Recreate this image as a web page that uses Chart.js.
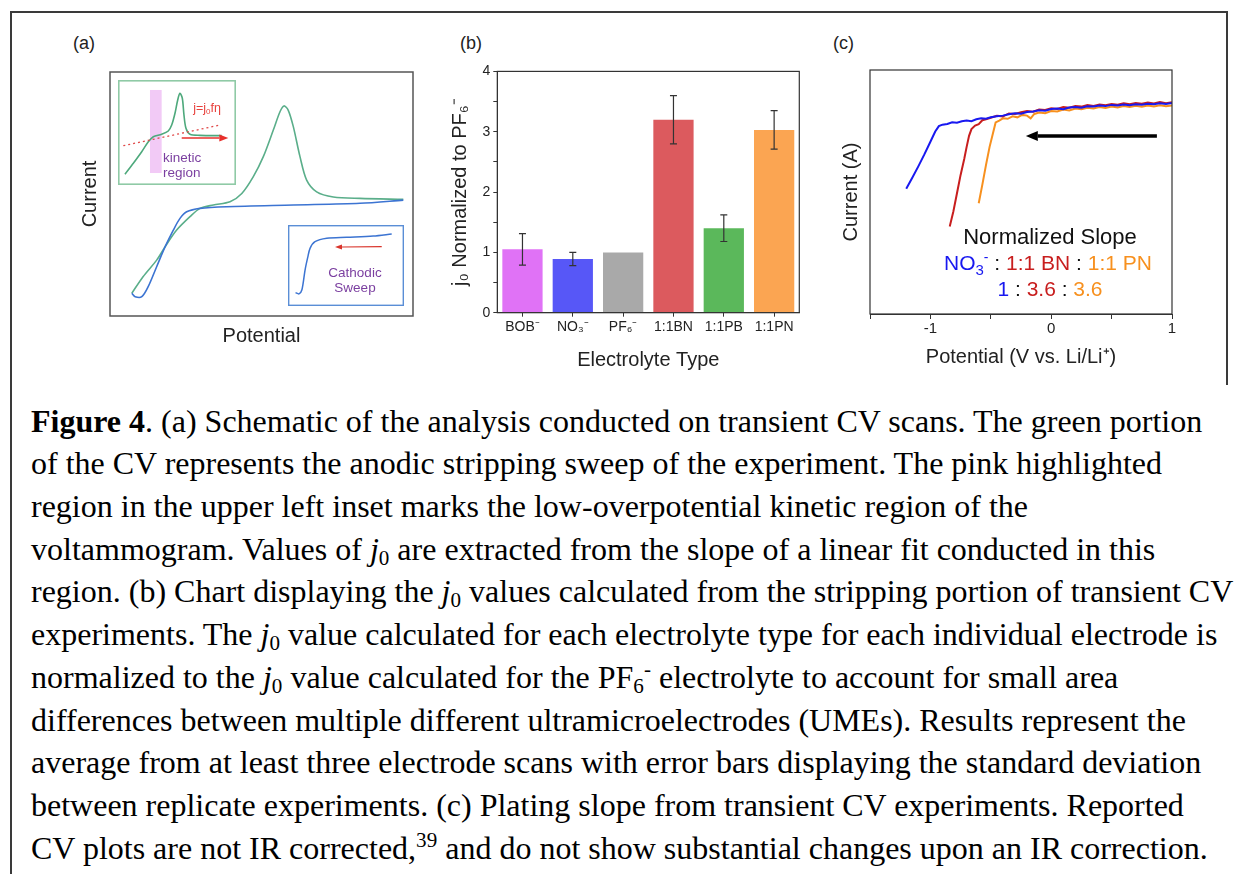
<!DOCTYPE html>
<html>
<head>
<meta charset="utf-8">
<script src="https://cdn.jsdelivr.net/npm/chart.js@4.4.0/dist/chart.umd.min.js"></script>
<style>
  body { margin: 0; background: #fff; width: 1240px; height: 874px; overflow: hidden; position: relative;
         font-family: "Liberation Sans", Arial, sans-serif; color: #222; }
  .abs { position: absolute; }
  canvas { position: absolute; }
  .lbl { position: absolute; font-size: 18px; line-height: 20px; }
  .note { position: absolute; white-space: nowrap; transform: translate(-50%, -50%); }
  .cap { position: absolute; left: 31px; top: 399.7px; font-family: "Liberation Serif", "Times New Roman", serif;
         font-size: 32px; color: #000; }
  .cap div { white-space: nowrap; line-height: 42.7px; height: 42.7px; }
  .cap sub { font-size: 0.66em; vertical-align: -0.22em; line-height: 0; }
  .cap sup { font-size: 0.66em; vertical-align: 0.55em; line-height: 0; }
  .edge { position: absolute; background: #3a3a3a; }
</style>
</head>
<body>

<!-- figure box -->
<div class="edge" style="left:10px;top:11px;width:2px;height:863px"></div>
<div class="edge" style="left:10px;top:11px;width:1218px;height:2px"></div>
<div class="edge" style="left:1226px;top:11px;width:2px;height:374px"></div>

<div class="lbl" style="left:73px;top:33px">(a)</div>
<div class="lbl" style="left:460px;top:33px">(b)</div>
<div class="lbl" style="left:833px;top:33px">(c)</div>

<canvas id="cvA" width="360" height="296" style="left:60px;top:60px"></canvas>
<canvas id="insetKin" width="118" height="105" style="left:118px;top:80px"></canvas>
<canvas id="insetCat" width="116" height="81" style="left:288px;top:225px"></canvas>
<canvas id="barB" width="365" height="320" style="left:440px;top:60px"></canvas>
<canvas id="slopeC" width="360" height="314" style="left:820px;top:60px"></canvas>

<!-- inset texts -->
<div class="note" style="left:207px;top:108px;font-size:12.5px;color:#e8413c">j=j<span style="font-size:8px;vertical-align:-2px">0</span>fη</div>
<div class="abs" style="left:163px;top:151px;font-size:13.5px;line-height:14.5px;color:#7b3fa0">kinetic<br>region</div>
<div class="abs" style="left:325px;top:265px;width:60px;text-align:center;font-size:13.5px;line-height:15px;color:#7b3fa0">Cathodic<br>Sweep</div>

<!-- panel c annotation -->
<div class="note" style="left:1050px;top:237px;font-size:22px;color:#111">Normalized Slope</div>
<div class="note" style="left:1048px;top:263px;font-size:21px;color:#111"><span style="color:#1818f0">NO<span style="font-size:15px;vertical-align:-5px">3</span><span style="font-size:14px;vertical-align:8px">-</span></span> : <span style="color:#c81e1e">1:1 BN</span> : <span style="color:#f7901e">1:1 PN</span></div>
<div class="note" style="left:1050px;top:289px;font-size:21px;color:#111"><span style="color:#1818f0">1</span> : <span style="color:#c81e1e">3.6</span> : <span style="color:#f7901e">3.6</span></div>

<div class="cap">
  <div><b>Figure 4</b>. (a) Schematic of the analysis conducted on transient CV scans. The green portion</div>
  <div>of the CV represents the anodic stripping sweep of the experiment. The pink highlighted</div>
  <div>region in the upper left inset marks the low-overpotential kinetic region of the</div>
  <div>voltammogram. Values of <i>j</i><sub>0</sub> are extracted from the slope of a linear fit conducted in this</div>
  <div>region. (b) Chart displaying the <i>j</i><sub>0</sub> values calculated from the stripping portion of transient CV</div>
  <div>experiments. The <i>j</i><sub>0</sub> value calculated for each electrolyte type for each individual electrode is</div>
  <div>normalized to the <i>j</i><sub>0</sub> value calculated for the PF<sub>6</sub><sup>-</sup> electrolyte to account for small area</div>
  <div>differences between multiple different ultramicroelectrodes (UMEs). Results represent the</div>
  <div>average from at least three electrode scans with error bars displaying the standard deviation</div>
  <div>between replicate experiments. (c) Plating slope from transient CV experiments. Reported</div>
  <div>CV plots are not IR corrected,<sup>39</sup> and do not show substantial changes upon an IR correction.</div>
</div>

<script>
// (a) schematic CV, arbitrary units (potential 0-100, current 0-100)
const anodicX = [7.2, 10.9, 15.4, 18.2, 22.0, 26.4, 29.7, 34.1, 39.6, 43.5, 47.3, 50.6, 53.9, 56.1, 57.4, 58.8, 60.5, 62.7, 64.9, 68.2, 73.7, 82.5, 96.8];
const anodicY = [9.3, 16.1, 22.9, 28.4, 35.2, 40.7, 44.1, 45.5, 46.8, 50.2, 57.1, 65.3, 76.2, 83.7, 86.1, 84.4, 77.6, 65.3, 55.7, 50.9, 48.8, 48.2, 47.8];
const cathodicX = [96.8, 82.5, 60.5, 38.5, 29.7, 25.3, 23.1, 20.9, 18.2, 15.4, 12.6, 10.5, 8.3, 7.2];
const cathodicY = [47.5, 46.2, 45.5, 44.8, 44.1, 42.7, 40.0, 35.2, 28.4, 20.2, 12.0, 7.9, 7.9, 9.3];

// upper-left inset (stripping sweep + linear fit)
const kinX = [5.9, 13.0, 20.1, 25.7, 29.9, 37.0, 42.6, 45.5, 48.3, 50.6, 52.5, 54.5, 55.9, 57.6, 61.0, 69.5, 87.9];
const kinY = [10.2, 20.7, 31.7, 41.2, 46.0, 48.3, 51.4, 57.1, 68.3, 81.0, 87.3, 82.6, 66.7, 54.0, 48.3, 47.3, 47.0];
const fitX = [4.5, 86.4];
const fitY = [37.4, 57.1];

// lower-right inset (cathodic sweep)
const catX = [6.5, 9.5, 12.0, 14.7, 17.0, 19.0, 23.3, 33.4, 50.6, 73.5, 89.4];
const catY = [16.5, 15.0, 20.0, 44.4, 60.0, 71.2, 79.4, 83.6, 84.8, 86.4, 88.9];

// (b) exchange current normalized to PF6-
const electrolytes = ['BOB⁻', 'NO₃⁻', 'PF₆⁻', '1:1BN', '1:1PB', '1:1PN'];
const j0Norm = [1.05, 0.89, 1.00, 3.20, 1.40, 3.03];
const j0Err = [0.26, 0.11, 0, 0.40, 0.22, 0.32];
const barColors = ['#e072f6', '#5757f7', '#a9a9a9', '#dc5a5e', '#5bb85b', '#fba552'];
const yTicksB = [0, 1, 2, 3, 4];

// (c) plating sweeps, current in arbitrary units
const no3X = [-1.20, -1.15, -1.10, -1.05, -1.00, -0.96, -0.93, -0.90, -0.86, -0.82, -0.78, -0.74, -0.70, -0.66, -0.62, -0.58, -0.54, -0.50, -0.45, -0.40, -0.35, -0.30, -0.25, -0.20, -0.15, -0.10, -0.05, 0.00, 0.05, 0.10, 0.15, 0.20, 0.25, 0.30, 0.35, 0.40, 0.45, 0.50, 0.55, 0.60, 0.65, 0.70, 0.75, 0.80, 0.85, 0.90, 0.95, 1.00];
const no3Y = [51.3, 55.8, 60.5, 65.4, 70.6, 74.8, 77.0, 77.6, 77.9, 78.6, 78.4, 79.0, 79.3, 79.0, 79.8, 80.2, 80.0, 80.6, 81.0, 81.3, 81.9, 82.3, 82.1, 82.8, 83.0, 83.5, 83.3, 84.0, 84.2, 83.9, 84.6, 84.8, 84.5, 85.1, 85.0, 85.4, 85.2, 85.7, 85.5, 85.9, 85.6, 86.0, 85.8, 86.2, 86.0, 86.4, 86.1, 86.5];
const bnX = [-0.84, -0.81, -0.78, -0.75, -0.72, -0.70, -0.68, -0.66, -0.63, -0.60, -0.57, -0.54, -0.50, -0.45, -0.40, -0.35, -0.30, -0.25, -0.20, -0.15, -0.10, -0.05, 0.00, 0.05, 0.10, 0.15, 0.20, 0.25, 0.30, 0.35, 0.40, 0.45, 0.50, 0.55, 0.60, 0.65, 0.70, 0.75, 0.80, 0.85, 0.90, 0.95, 1.00];
const bnY = [35.9, 42.0, 49.5, 57.0, 63.5, 68.5, 73.0, 75.8, 77.2, 77.8, 79.4, 79.8, 80.4, 81.2, 81.0, 82.2, 82.0, 82.7, 83.2, 82.9, 83.8, 83.6, 84.3, 84.0, 84.8, 84.5, 85.2, 85.0, 85.6, 85.3, 85.9, 85.6, 86.1, 85.8, 86.4, 86.0, 86.5, 86.2, 86.7, 86.3, 86.9, 86.4, 86.8];
const pnX = [-0.60, -0.57, -0.54, -0.51, -0.48, -0.46, -0.43, -0.40, -0.36, -0.32, -0.28, -0.24, -0.20, -0.17, -0.14, -0.10, -0.05, 0.00, 0.05, 0.10, 0.15, 0.20, 0.25, 0.30, 0.35, 0.40, 0.45, 0.50, 0.55, 0.60, 0.65, 0.70, 0.75, 0.80, 0.85, 0.90, 0.95, 1.00];
const pnY = [45.4, 53.0, 61.0, 68.5, 74.5, 78.5, 79.3, 80.2, 80.0, 81.0, 80.6, 81.6, 81.3, 80.2, 82.0, 82.6, 82.3, 83.2, 83.0, 83.8, 83.4, 84.2, 83.9, 84.5, 84.2, 84.8, 84.4, 85.0, 84.6, 85.2, 84.8, 85.3, 84.9, 85.4, 85.0, 85.5, 85.1, 85.5];
const xTicksC = [-1, 0, 1];

const FONT = "'Liberation Sans', Arial, sans-serif";
Chart.defaults.font.family = FONT;
Chart.defaults.color = '#222';

function pts(xs, ys) {
    return xs.map((x, i) => ({x: x, y: ys[i]}));
}

function drawArrow(ctx, x1, y1, x2, y2, color, lw, headLen, headW) {
    const ang = Math.atan2(y2 - y1, x2 - x1);
    ctx.save();
    ctx.strokeStyle = color;
    ctx.fillStyle = color;
    ctx.lineWidth = lw;
    ctx.beginPath();
    ctx.moveTo(x1, y1);
    ctx.lineTo(x2 - headLen * Math.cos(ang), y2 - headLen * Math.sin(ang));
    ctx.stroke();
    ctx.translate(x2, y2);
    ctx.rotate(ang);
    ctx.beginPath();
    ctx.moveTo(0, 0);
    ctx.lineTo(-headLen, -headW / 2);
    ctx.lineTo(-headLen, headW / 2);
    ctx.closePath();
    ctx.fill();
    ctx.restore();
}

// box around the plot area
const framePlugin = {
    id: 'frame',
    afterDraw(chart, args, opts) {
        const {ctx, chartArea: a} = chart;
        const lw = opts.width || 1.2;
        const d = opts.inset ? lw / 2 : 0;
        ctx.save();
        ctx.strokeStyle = opts.color || '#333';
        ctx.lineWidth = lw;
        ctx.strokeRect(a.left + d, a.top + d, a.right - a.left - 2 * d, a.bottom - a.top - 2 * d);
        ctx.restore();
    }
};

// shaded band and arrows, given in data units
const marksPlugin = {
    id: 'marks',
    beforeDatasetsDraw(chart, args, opts) {
        if (!opts.band) return;
        const {ctx, scales: {x, y}} = chart;
        const b = opts.band;
        ctx.save();
        ctx.fillStyle = b.color;
        const x0 = x.getPixelForValue(b.x0), x1 = x.getPixelForValue(b.x1);
        const y0 = y.getPixelForValue(b.y0), y1 = y.getPixelForValue(b.y1);
        ctx.fillRect(x0, y1, x1 - x0, y0 - y1);
        ctx.restore();
    },
    afterDatasetsDraw(chart, args, opts) {
        if (!opts.arrow) return;
        const {ctx, scales: {x, y}} = chart;
        const r = opts.arrow;
        drawArrow(ctx, x.getPixelForValue(r.from[0]), y.getPixelForValue(r.from[1]),
            x.getPixelForValue(r.to[0]), y.getPixelForValue(r.to[1]), r.color, r.width, r.head, r.headW);
    }
};

const errorBarPlugin = {
    id: 'errorBars',
    afterDatasetsDraw(chart) {
        const {ctx, scales: {y}} = chart;
        const meta = chart.getDatasetMeta(0);
        ctx.save();
        ctx.strokeStyle = '#333';
        ctx.lineWidth = 1.2;
        meta.data.forEach((bar, i) => {
            const e = j0Err[i];
            if (!e) return;
            const top = y.getPixelForValue(j0Norm[i] + e);
            const bot = y.getPixelForValue(j0Norm[i] - e);
            ctx.beginPath();
            ctx.moveTo(bar.x, top);
            ctx.lineTo(bar.x, bot);
            ctx.moveTo(bar.x - 3.5, top);
            ctx.lineTo(bar.x + 3.5, top);
            ctx.moveTo(bar.x - 3.5, bot);
            ctx.lineTo(bar.x + 3.5, bot);
            ctx.stroke();
        });
        ctx.restore();
    }
};

const hidden = {display: false, min: 0, max: 100, type: 'linear'};
const base = {
    responsive: false,
    animation: false,
    events: [],
};
const titleFont = {size: 20, family: FONT};

// ---- (a) main CV ----
new Chart(document.getElementById('cvA'), {
    type: 'scatter',
    data: {
        datasets: [
            {data: pts(cathodicX, cathodicY), showLine: true, borderColor: '#3c74d2', borderWidth: 1.6, pointRadius: 0, tension: 0.3},
            {data: pts(anodicX, anodicY), showLine: true, borderColor: '#5aae8a', borderWidth: 1.6, pointRadius: 0, tension: 0.3}
        ]
    },
    options: {
        ...base,
        layout: {padding: {top: 12, right: 7, left: 0, bottom: 0}},
        plugins: {legend: {display: false}, tooltip: {enabled: false}, frame: {color: '#555', width: 1.5}},
        scales: {
            x: {
                type: 'linear', min: 0, max: 100,
                ticks: {display: false}, grid: {display: false}, border: {display: false},
                title: {display: true, text: 'Potential', font: titleFont, color: '#222', padding: {top: 0, bottom: 8}},
                afterFit(s) { s.height = 40; }
            },
            y: {
                type: 'linear', min: 0, max: 100,
                ticks: {display: false}, grid: {display: false}, border: {display: false},
                title: {display: true, text: 'Current', font: titleFont, color: '#222', padding: {top: 18, bottom: 0}},
                afterFit(s) { s.width = 50; }
            }
        }
    },
    plugins: [framePlugin]
});

// ---- (a) kinetic inset ----
new Chart(document.getElementById('insetKin'), {
    type: 'scatter',
    data: {
        datasets: [
            {data: pts(fitX, fitY), showLine: true, borderColor: '#e04848', borderWidth: 1.3, borderDash: [2, 3], pointRadius: 0},
            {data: pts(kinX, kinY), showLine: true, borderColor: '#4ea97c', borderWidth: 1.6, pointRadius: 0, tension: 0.3}
        ]
    },
    options: {
        ...base,
        layout: {padding: 0},
        plugins: {
            legend: {display: false}, tooltip: {enabled: false},
            frame: {color: '#8fcaa6', width: 1.6, inset: true},
            marks: {
                band: {x0: 27.1, x1: 37.0, y0: 11.4, y1: 90.5, color: '#f2caf6'},
                arrow: {from: [54, 44.8], to: [93.5, 44.8], color: '#e8302c', width: 1.6, head: 9, headW: 7}
            }
        },
        scales: {x: hidden, y: hidden}
    },
    plugins: [framePlugin, marksPlugin]
});

// ---- (a) cathodic inset ----
new Chart(document.getElementById('insetCat'), {
    type: 'scatter',
    data: {
        datasets: [
            {data: pts(catX, catY), showLine: true, borderColor: '#3c74d2', borderWidth: 1.5, pointRadius: 0, tension: 0.3}
        ]
    },
    options: {
        ...base,
        layout: {padding: 0},
        plugins: {
            legend: {display: false}, tooltip: {enabled: false},
            frame: {color: '#5a8ed6', width: 1.4, inset: true},
            marks: {arrow: {from: [80.8, 73.2], to: [40.5, 72.8], color: '#d9342b', width: 1.2, head: 7, headW: 5}}
        },
        scales: {x: hidden, y: hidden}
    },
    plugins: [framePlugin, marksPlugin]
});

// ---- (b) bars ----
new Chart(document.getElementById('barB'), {
    type: 'bar',
    data: {
        labels: electrolytes,
        datasets: [{data: j0Norm, backgroundColor: barColors, borderWidth: 0, barPercentage: 0.8, categoryPercentage: 1.0}]
    },
    options: {
        ...base,
        layout: {padding: {top: 7.7, right: 5.7, left: 0, bottom: 0}},
        plugins: {legend: {display: false}, tooltip: {enabled: false}, frame: {color: '#333', width: 1.2}},
        scales: {
            x: {
                grid: {offset: false, drawOnChartArea: false, drawTicks: true, tickLength: 4, color: '#333'},
                border: {display: true, color: '#333'},
                ticks: {font: {size: 14}, color: '#222', padding: 2.5, maxRotation: 0, autoSkip: false},
                title: {display: true, text: 'Electrolyte Type', font: titleFont, color: '#222', padding: {top: 0, bottom: 8}},
                afterFit(s) { s.height = 67.3; }
            },
            y: {
                min: 0, max: 4,
                grid: {drawOnChartArea: false, drawTicks: true, tickLength: 4, color: '#333'},
                border: {display: true, color: '#333'},
                ticks: {
                    stepSize: 0.5, font: {size: 14}, color: '#222', padding: 3,
                    callback: v => yTicksB.includes(v) ? String(v) : ''
                },
                title: {display: true, text: 'j₀ Normalized to PF₆⁻', font: titleFont, color: '#222', padding: {top: 8, bottom: 0}},
                afterFit(s) { s.width = 57.3; }
            }
        }
    },
    plugins: [framePlugin, errorBarPlugin]
});

// ---- (c) plating slopes ----
new Chart(document.getElementById('slopeC'), {
    type: 'scatter',
    data: {
        datasets: [
            {data: pts(no3X, no3Y), showLine: true, borderColor: '#1818f0', borderWidth: 2, pointRadius: 0},
            {data: pts(bnX, bnY), showLine: true, borderColor: '#c81e1e', borderWidth: 2, pointRadius: 0},
            {data: pts(pnX, pnY), showLine: true, borderColor: '#f7901e', borderWidth: 2, pointRadius: 0}
        ]
    },
    options: {
        ...base,
        layout: {padding: {top: 10, right: 8, left: 0, bottom: 0}},
        plugins: {
            legend: {display: false}, tooltip: {enabled: false},
            frame: {color: '#333', width: 1.2},
            marks: {arrow: {from: [0.875, 73], to: [-0.21, 73], color: '#000', width: 3.5, head: 12, headW: 10}}
        },
        scales: {
            x: {
                type: 'linear', min: -1.5, max: 1,
                grid: {drawOnChartArea: false, drawTicks: true, tickLength: 5, color: '#333'},
                border: {display: true, color: '#333'},
                ticks: {
                    stepSize: 0.5, font: {size: 15}, color: '#222', padding: 1, maxRotation: 0,
                    callback: v => xTicksC.includes(v) ? String(v) : ''
                },
                title: {display: true, text: 'Potential (V vs. Li/Li⁺)', font: titleFont, color: '#222', padding: {top: 0, bottom: 4.3}},
                afterFit(s) { s.height = 60; }
            },
            y: {
                type: 'linear', min: 0, max: 100,
                ticks: {display: false}, grid: {display: false}, border: {display: false},
                title: {display: true, text: 'Current (A)', font: titleFont, color: '#222', padding: {top: 19.7, bottom: 0}},
                afterFit(s) { s.width = 50; }
            }
        }
    },
    plugins: [framePlugin, marksPlugin]
});
</script>
</body>
</html>
